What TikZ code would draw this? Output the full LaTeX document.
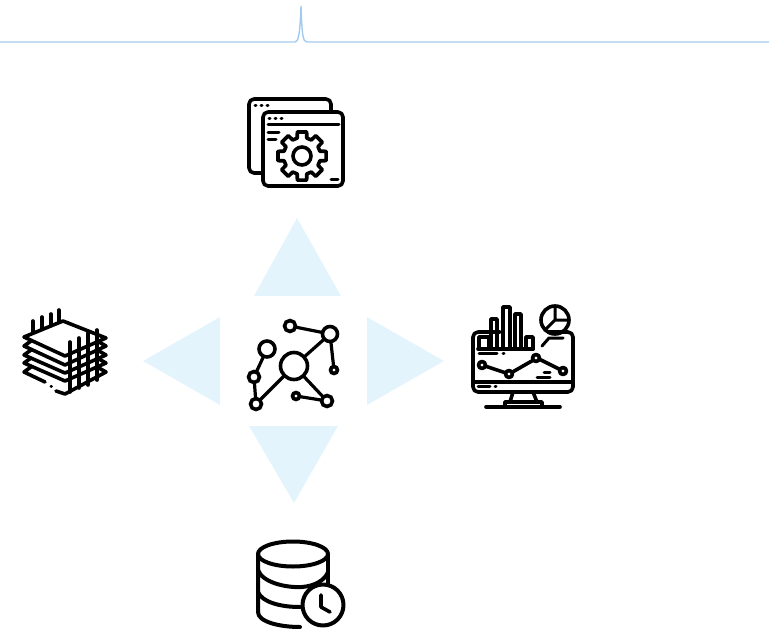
\documentclass[tikz,border=0pt]{standalone}
\usepackage{xcolor}
\usetikzlibrary{arrows.meta,positioning,shapes.geometric}
\definecolor{trianglefill}{HTML}{E4F4FC}
\definecolor{peakline}{HTML}{A3CBEE}

\begin{document}
\begin{tikzpicture}[
    x=1pt,
    y=-1pt,
    pointer/.style={
        fill=trianglefill,
        draw=none
    },
    peak/.style={
        draw=peakline,
        line width=1.4pt
    },
    icon/.style={
        draw=black,
        line width=3.6pt,
        line cap=round,
        line join=round
    },
    thin icon/.style={
        icon,
        line width=3pt
    },
    hub/.style={
        circle,
        draw=black,
        line width=3.6pt,
        fill=white,
        inner sep=0pt,
        outer sep=0pt
    },
    link/.style={
        draw=black,
        line width=3.2pt
    }
]
\useasboundingbox (0,0) rectangle (769,629);

\draw[peak] (0,42) -- (295,42) .. controls (298,42) and (300,36) .. (301,6)
    .. controls (302,36) and (303,42) .. (307,42) -- (769,42);

\fill[pointer] (297,218) -- (341,296) -- (254,296) -- cycle;
\fill[pointer] (143,361) -- (220,317) -- (220,405) -- cycle;
\fill[pointer] (444,361) -- (367,317) -- (367,405) -- cycle;
\fill[pointer] (294,503) -- (249,426) -- (338,426) -- cycle;

\node[hub, minimum size=27pt] (center) at (294,366) {};
\node[hub, minimum size=15pt] (upright) at (330,334) {};
\node[hub, minimum size=11pt] (top) at (290,326) {};
\node[hub, minimum size=7pt] (right) at (334,370) {};
\node[hub, minimum size=16pt] (upleft) at (267,349) {};
\node[hub, minimum size=11pt] (midleft) at (254,377) {};
\node[hub, minimum size=11pt] (downleft) at (256,404) {};
\node[hub, minimum size=11pt] (downright) at (327,401) {};
\node[hub, minimum size=7pt] (lower) at (296,396) {};

\draw[link] (top) -- (upright);
\draw[link] (upright) -- (center);
\draw[link] (upright) -- (right);
\draw[link] (upleft) -- (midleft);
\draw[link] (midleft) -- (downleft);
\draw[link] (downleft) -- (center);
\draw[link] (center) -- (downright);
\draw[link] (lower) -- (downright);

\draw[icon] (262,173) -- (255,173) [rounded corners=5pt] -- (249,173) -- (249,99) -- (331,99) -- (331,112);
\draw[icon, rounded corners=5pt] (263,112) rectangle (343,186);
\draw[thin icon] (268,124) -- (339,124);
\draw[thin icon] (268,132) -- (279,132);
\draw[thin icon] (268,139) -- (276,139);
\draw[thin icon] (331,179) -- (338,179);
\draw[thin icon] (255,105) -- (256,105) (261,105) -- (262,105) (267,105) -- (268,105);
\draw[thin icon] (269,118) -- (270,118) (275,118) -- (276,118) (281,118) -- (282,118);
\draw[icon] ([shift={(302,156)}]-11:24.5) \foreach \a in {0,45,...,315} {
    -- ([shift={(302,156)}]\a-11:24.5) -- ([shift={(302,156)}]\a+11:24.5)
    -- ([shift={(302,156)}]\a+15:18.5) -- ([shift={(302,156)}]\a+30:18.5)
} -- cycle;
\draw[icon] (302,156) circle (9);

\draw[icon, rounded corners=5pt] (500,332) -- (473,332) -- (473,392) -- (573,392) -- (573,332) -- (548,332);
\draw[icon] (473,382) -- (573,382);
\draw[icon] (479,349) -- (479,337) -- (489,337) -- (489,349);
\draw[icon] (491,349) -- (491,319) -- (497,319) -- (497,349);
\draw[icon] (503,349) -- (503,307) -- (510,307) -- (510,349);
\draw[icon] (515,349) -- (515,314) -- (521,314) -- (521,349);
\draw[icon] (526,349) -- (526,337) -- (533,337) -- (533,349);
\draw[icon] (478,349) -- (533,349);
\draw[icon] (555,320) circle (14);
\draw[thin icon] (555,307) -- (555,320) -- (568,320) (555,320) -- (545,330);
\draw[thin icon] (542,346) -- (549,338) -- (563,338);
\draw[thin icon] (479,353) -- (497,353) (503,353) -- (504,353);
\draw[thin icon] (544,372) -- (550,372) (537,377) -- (550,377);
\draw[thin icon] (478,386) -- (490,386) (495,386) -- (496,386);
\draw[icon] (482,365) -- (509,374) -- (537,358) -- (563,371);
\draw[icon, fill=white] (482,365) circle (3.5);
\draw[icon, fill=white] (509,374) circle (3.5);
\draw[icon, fill=white] (536,358) circle (3.5);
\draw[icon, fill=white] (563,371) circle (3.5);
\draw[icon] (513,392) -- (510,402) (533,392) -- (537,402);
\draw[icon] (505,407) -- (505,402) -- (542,402) -- (542,407);
\draw[icon] (486,407) -- (560,407);

\draw[icon] (24,337) -- (63,321) -- (106,338) -- (65,356) -- cycle;
\draw[icon] (31,341) -- (24,346) -- (65,365) -- (106,346) -- (99,342);
\draw[icon] (31,350) -- (24,355) -- (65,373) -- (106,355) -- (99,351);
\draw[icon] (31,358) -- (24,363) -- (65,381) -- (106,363) -- (99,359);
\draw[icon] (31,367) -- (24,372) -- (45,382);
\draw[icon] (56,391) -- (65,394) -- (106,372) -- (99,368);
\draw[thin icon] (51,386.5) -- (51.5,386.5);
\draw[icon] (33,333) -- (33,321) (42,329) -- (42,317) (51,325) -- (51,314) (59,321) -- (59,310);
\draw[icon] (70,392) -- (70,342) (79,388) -- (79,338) (88,385) -- (88,333) (97,380) -- (97,330);

\draw[icon, line width=4pt] (258,554) -- (258,612) .. controls (258,622) and (280,627) .. (300,627);
\draw[icon, line width=4pt] (328,554) -- (328,585);
\draw[icon, line width=4pt] (293,554) ellipse (35 and 12.5);
\draw[icon, line width=4pt] (258,570) .. controls (262,582) and (285,588) .. (302,587)
    .. controls (315,586) and (325,580) .. (328,572);
\draw[icon, line width=4pt] (258,592) .. controls (262,602) and (280,607) .. (300,607);
\draw[icon, line width=4pt, fill=white] (323,605) circle (20.5);
\draw[icon] (321,595) -- (321,607) -- (330,612);

\end{tikzpicture}
\end{document}
